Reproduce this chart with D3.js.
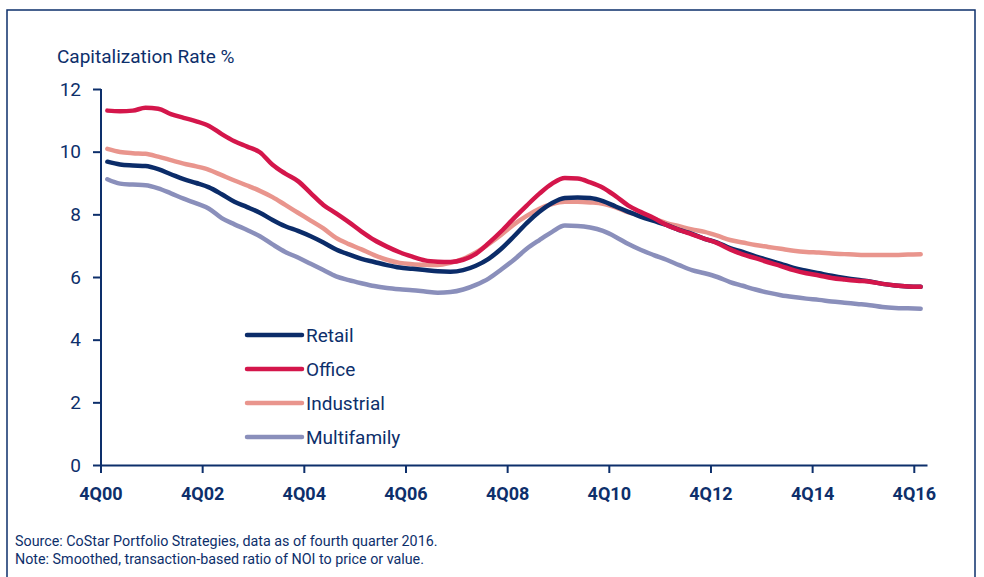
<!DOCTYPE html>
<html lang="en">
<head>
<meta charset="utf-8">
<title>Capitalization Rate %</title>
<script src="https://d3js.org/d3.v7.min.js"></script>
<style>
  body { margin: 0; background: #fff; }
  svg { display: block; }
  text { fill: #0d2f6b; font-family: "Liberation Sans Narrow", "Roboto", "Liberation Sans", sans-serif; }
</style>
</head>
<body>
<script>
// quarters 4Q00 .. 4Q16
const quarters = [];
for (let y = 0; y <= 16; y++) {
  const qs = y === 0 ? [4] : [1, 2, 3, 4];
  qs.forEach(q => quarters.push(q + "Q" + String(y).padStart(2, "0")));
}
const tickLabels = ["4Q00", "4Q02", "4Q04", "4Q06", "4Q08", "4Q10", "4Q12", "4Q14", "4Q16"];
const yTicks = [0, 2, 4, 6, 8, 10, 12];

const retail = [9.68, 9.59, 9.56, 9.54, 9.44, 9.28, 9.12, 9.00, 8.86, 8.64, 8.40, 8.23, 8.05, 7.82, 7.62, 7.47,
  7.30, 7.10, 6.88, 6.72, 6.58, 6.48, 6.38, 6.30, 6.26, 6.22, 6.18, 6.17, 6.22, 6.36, 6.58, 6.90,
  7.30, 7.72, 8.08, 8.36, 8.52, 8.54, 8.52, 8.42, 8.25, 8.08, 7.92, 7.79, 7.66, 7.50, 7.38, 7.22,
  7.10, 6.92, 6.80, 6.66, 6.54, 6.42, 6.29, 6.20, 6.12, 6.04, 5.97, 5.91, 5.86, 5.78, 5.73, 5.70, 5.69];
const office = [11.31, 11.29, 11.31, 11.40, 11.37, 11.20, 11.08, 10.97, 10.82, 10.56, 10.33, 10.16, 9.98, 9.58, 9.30, 9.06,
  8.68, 8.30, 8.03, 7.75, 7.45, 7.18, 6.97, 6.79, 6.65, 6.53, 6.49, 6.48, 6.55, 6.74, 7.08, 7.46,
  7.88, 8.28, 8.66, 8.98, 9.16, 9.14, 9.02, 8.85, 8.58, 8.28, 8.07, 7.88, 7.66, 7.50, 7.36, 7.22,
  7.08, 6.88, 6.72, 6.60, 6.47, 6.35, 6.22, 6.12, 6.05, 5.97, 5.92, 5.88, 5.85, 5.78, 5.73, 5.70, 5.69];
const industrial = [10.09, 9.99, 9.95, 9.93, 9.84, 9.73, 9.62, 9.53, 9.42, 9.25, 9.08, 8.92, 8.75, 8.55, 8.30, 8.05,
  7.80, 7.55, 7.25, 7.05, 6.88, 6.70, 6.55, 6.45, 6.41, 6.39, 6.38, 6.45, 6.58, 6.78, 7.05, 7.35,
  7.68, 7.95, 8.18, 8.33, 8.40, 8.40, 8.38, 8.34, 8.22, 8.06, 7.96, 7.86, 7.72, 7.62, 7.52, 7.44,
  7.32, 7.18, 7.10, 7.02, 6.96, 6.90, 6.84, 6.80, 6.78, 6.75, 6.73, 6.71, 6.70, 6.70, 6.70, 6.72, 6.73];
const multifamily = [9.12, 8.98, 8.95, 8.93, 8.83, 8.67, 8.50, 8.35, 8.18, 7.88, 7.68, 7.50, 7.30, 7.04, 6.80, 6.62,
  6.42, 6.22, 6.02, 5.90, 5.80, 5.71, 5.65, 5.61, 5.58, 5.54, 5.50, 5.52, 5.60, 5.75, 5.95, 6.24,
  6.55, 6.90, 7.18, 7.44, 7.64, 7.63, 7.58, 7.47, 7.28, 7.05, 6.86, 6.70, 6.55, 6.38, 6.22, 6.12,
  6.00, 5.84, 5.72, 5.60, 5.50, 5.42, 5.36, 5.31, 5.27, 5.22, 5.18, 5.14, 5.10, 5.04, 5.01, 5.00, 4.99];

// drawn bottom first, so Office/Retail sit on top as in the source
const series = [
  { name: "Multifamily", values: multifamily, color: "#8a8fbb" },
  { name: "Industrial", values: industrial, color: "#e9958d" },
  { name: "Retail", values: retail, color: "#0b2c69" },
  { name: "Office", values: office, color: "#d4164b" }
];
const legendOrder = ["Retail", "Office", "Industrial", "Multifamily"];

const W = 984, H = 577;
const navy = "#0d2f6b";

const svg = d3.select("body").append("svg")
  .attr("width", W)
  .attr("height", H);

// frame
svg.append("rect")
  .attr("x", 7).attr("y", 10)
  .attr("width", 968).attr("height", 600)
  .attr("fill", "none")
  .attr("stroke", navy)
  .attr("stroke-width", 1.5);

const x = d3.scaleBand().domain(quarters).range([101, 927]);
const y = d3.scaleLinear().domain([0, 12]).range([465, 89]);

// y axis
const yAxis = svg.append("g")
  .attr("transform", "translate(101,0)")
  .call(d3.axisLeft(y).tickValues(yTicks).tickSize(8).tickPadding(12));
yAxis.select(".domain").attr("stroke", navy).attr("stroke-width", 2).attr("d", "M0,465V89");
yAxis.selectAll(".tick line").attr("stroke", navy).attr("stroke-width", 2);
yAxis.selectAll(".tick text").attr("fill", navy).style("font-size", "19px");

// x axis
const xAxis = svg.append("g")
  .attr("transform", "translate(0,465)")
  .call(d3.axisBottom(x).tickValues(tickLabels).tickSize(8).tickPadding(14).tickSizeOuter(0));
xAxis.select(".domain").attr("stroke", navy).attr("stroke-width", 2);
xAxis.selectAll(".tick").attr("transform", d => `translate(${x(d)},0)`);
xAxis.selectAll(".tick line").attr("stroke", navy).attr("stroke-width", 2);
xAxis.selectAll(".tick text").attr("fill", navy)
  .style("font-size", "18px").style("font-weight", "bold");

// lines
const line = d3.line()
  .x((d, i) => x(quarters[i]) + x.bandwidth() / 2)
  .y(d => y(d))
  .curve(d3.curveMonotoneX);

svg.append("g").selectAll("path")
  .data(series)
  .join("path")
  .attr("d", d => line(d.values))
  .attr("fill", "none")
  .attr("stroke", d => d.color)
  .attr("stroke-width", 4.5)
  .attr("stroke-linecap", "round")
  .attr("stroke-linejoin", "round");

// y title
svg.append("text")
  .attr("x", 57).attr("y", 63)
  .style("font-size", "19px")
  .text("Capitalization Rate %");

// legend
const legend = svg.append("g").selectAll("g")
  .data(legendOrder.map(n => series.find(s => s.name === n)))
  .join("g")
  .attr("transform", (d, i) => `translate(247,${335 + i * 34})`);
legend.append("line")
  .attr("x1", 0).attr("x2", 55)
  .attr("stroke", d => d.color)
  .attr("stroke-width", 4.5)
  .attr("stroke-linecap", "round");
legend.append("text")
  .attr("x", 59).attr("y", 7)
  .style("font-size", "19px")
  .text(d => d.name);

// notes
svg.append("text")
  .attr("x", 15).attr("y", 546)
  .style("font-size", "14.3px")
  .text("Source: CoStar Portfolio Strategies, data as of fourth quarter 2016.");
svg.append("text")
  .attr("x", 15).attr("y", 564)
  .style("font-size", "14.3px")
  .text("Note: Smoothed, transaction-based ratio of NOI to price or value.");
</script>
</body>
</html>
